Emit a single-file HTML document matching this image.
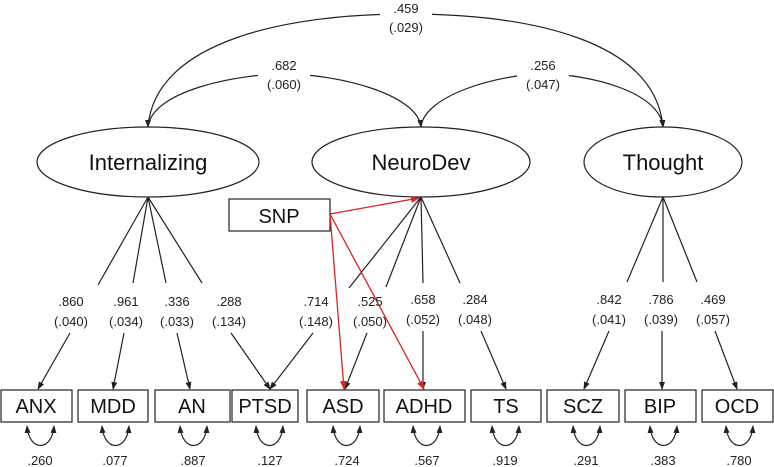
<!DOCTYPE html>
<html><head><meta charset="utf-8"><style>
html,body{margin:0;padding:0;background:#fff;}
svg{display:block;font-family:"Liberation Sans",sans-serif;}
</style></head><body>
<svg width="774" height="467" viewBox="0 0 774 467" xmlns="http://www.w3.org/2000/svg">
<defs>
<marker id="a" markerWidth="8" markerHeight="8" refX="7" refY="4" orient="auto-start-reverse" markerUnits="userSpaceOnUse"><path d="M0,1 L8,4 L0,7 Z" fill="#222"/></marker>
<marker id="r" markerWidth="9" markerHeight="9" refX="8" refY="4.5" orient="auto" markerUnits="userSpaceOnUse"><path d="M0,1 L9,4.5 L0,8 Z" fill="#d22"/></marker>
</defs>
<g fill="none" stroke="#222" stroke-width="1.2">
<!-- covariance curves -->
<path d="M148,127 C155,40 290,14 406,14 C530,14 655,40 663,127" marker-end="url(#a)"/>
<path d="M148,127 C152,90 240,74 284,74 C340,74 418,95 421,127" marker-end="url(#a)"/>
<path d="M421,127 C424,95 500,74 543,74 C590,74 660,92 663,127" marker-end="url(#a)"/>
<path d="M148,126 L148,127" marker-end="url(#a)"/>
<!-- ellipses -->
<ellipse cx="148" cy="162" rx="111" ry="35" fill="#fff"/>
<ellipse cx="421" cy="162" rx="109" ry="35" fill="#fff"/>
<ellipse cx="663" cy="162" rx="79" ry="35" fill="#fff"/>
<!-- loadings upper -->
<path d="M148,197 L98,285 M148,197 L133,283 M148,197 L166,283 M148,197 L202,283"/>
<path d="M421,197 L349,288 M421,197 L386,287 M421,197 L423,283 M421,197 L460,283"/>
<path d="M663,197 L627,282 M663,197 L663,282 M663,197 L697,282"/>
<!-- loadings lower arrows -->
<path d="M70,333 L38,389" marker-end="url(#a)"/>
<path d="M124,333 L113,389" marker-end="url(#a)"/>
<path d="M177,333 L190,389" marker-end="url(#a)"/>
<path d="M231,333 L270,389" marker-end="url(#a)"/>
<path d="M313,333 L270,389" marker-end="url(#a)"/>
<path d="M367,333 L345,389" marker-end="url(#a)"/>
<path d="M423,331 L423,389" marker-end="url(#a)"/>
<path d="M481,331 L506,389" marker-end="url(#a)"/>
<path d="M609,331 L584,389" marker-end="url(#a)"/>
<path d="M662,331 L662,389" marker-end="url(#a)"/>
<path d="M715,331 L737,389" marker-end="url(#a)"/>
<!-- boxes -->
<rect x="229" y="199" width="101" height="32" fill="#fff"/>
<rect x="1" y="390" width="71" height="32"/>
<rect x="78" y="390" width="70" height="32"/>
<rect x="155" y="390" width="75" height="32"/>
<rect x="232" y="390" width="66" height="32"/>
<rect x="307" y="390" width="72" height="32"/>
<rect x="384" y="390" width="81" height="32"/>
<rect x="471" y="390" width="70" height="32"/>
<rect x="547" y="390" width="72" height="32"/>
<rect x="625" y="390" width="71" height="32"/>
<rect x="702" y="390" width="71" height="32"/>
<!-- residual loops -->
<g>
<path d="M27,426 C29,452 52,452 54,426" marker-end="url(#a)" marker-start="url(#a)"/>
<path d="M102,426 C104,452 127,452 129,426" marker-end="url(#a)" marker-start="url(#a)"/>
<path d="M180,426 C182,452 205,452 207,426" marker-end="url(#a)" marker-start="url(#a)"/>
<path d="M256,426 C258,452 281,452 283,426" marker-end="url(#a)" marker-start="url(#a)"/>
<path d="M333,426 C335,452 358,452 360,426" marker-end="url(#a)" marker-start="url(#a)"/>
<path d="M413,426 C415,452 438,452 440,426" marker-end="url(#a)" marker-start="url(#a)"/>
<path d="M492,426 C494,452 517,452 519,426" marker-end="url(#a)" marker-start="url(#a)"/>
<path d="M573,426 C575,452 598,452 600,426" marker-end="url(#a)" marker-start="url(#a)"/>
<path d="M650,426 C652,452 675,452 677,426" marker-end="url(#a)" marker-start="url(#a)"/>
<path d="M726,426 C728,452 751,452 753,426" marker-end="url(#a)" marker-start="url(#a)"/>
</g>
</g>
<!-- label gaps -->
<g fill="#fff">
<rect x="380" y="0" width="52" height="36"/>
<rect x="258" y="56" width="52" height="36"/>
<rect x="517" y="56" width="52" height="36"/>
</g>
<!-- red paths -->
<g fill="none" stroke="#d22" stroke-width="1.3">
<path d="M330,214 L419,198" marker-end="url(#r)"/>
<path d="M330,214 L344,389" marker-end="url(#r)"/>
<path d="M330,214 L424,389" marker-end="url(#r)"/>
</g>
<!-- labels -->
<g font-size="13" fill="#222" text-anchor="middle">
<text x="406" y="13">.459</text><text x="406" y="32">(.029)</text>
<text x="284" y="70">.682</text><text x="284" y="89">(.060)</text>
<text x="543" y="70">.256</text><text x="543" y="89">(.047)</text>
<text x="71" y="306">.860</text><text x="71" y="326">(.040)</text>
<text x="126" y="306">.961</text><text x="126" y="326">(.034)</text>
<text x="177" y="306">.336</text><text x="177" y="326">(.033)</text>
<text x="229" y="306">.288</text><text x="229" y="326">(.134)</text>
<text x="316" y="306">.714</text><text x="316" y="326">(.148)</text>
<text x="370" y="306">.525</text><text x="370" y="326">(.050)</text>
<text x="423" y="304">.658</text><text x="423" y="324">(.052)</text>
<text x="475" y="304">.284</text><text x="475" y="324">(.048)</text>
<text x="609" y="304">.842</text><text x="609" y="324">(.041)</text>
<text x="661" y="304">.786</text><text x="661" y="324">(.039)</text>
<text x="713" y="304">.469</text><text x="713" y="324">(.057)</text>
<text x="40" y="465">.260</text><text x="115" y="465">.077</text><text x="193" y="465">.887</text>
<text x="270" y="465">.127</text><text x="347" y="465">.724</text><text x="427" y="465">.567</text>
<text x="505" y="465">.919</text><text x="586" y="465">.291</text><text x="663" y="465">.383</text>
<text x="739" y="465">.780</text>
</g>
<g font-size="22" fill="#111" text-anchor="middle">
<text x="148" y="170">Internalizing</text>
<text x="421" y="170">NeuroDev</text>
<text x="663" y="170">Thought</text>
</g>
<g font-size="20" fill="#111" text-anchor="middle">
<text x="279" y="223">SNP</text>
<text x="36" y="413">ANX</text>
<text x="113" y="413">MDD</text>
<text x="192" y="413">AN</text>
<text x="265" y="413">PTSD</text>
<text x="343" y="413">ASD</text>
<text x="424" y="413">ADHD</text>
<text x="506" y="413">TS</text>
<text x="583" y="413">SCZ</text>
<text x="660" y="413">BIP</text>
<text x="737" y="413">OCD</text>
</g>
</svg>
</body></html>
